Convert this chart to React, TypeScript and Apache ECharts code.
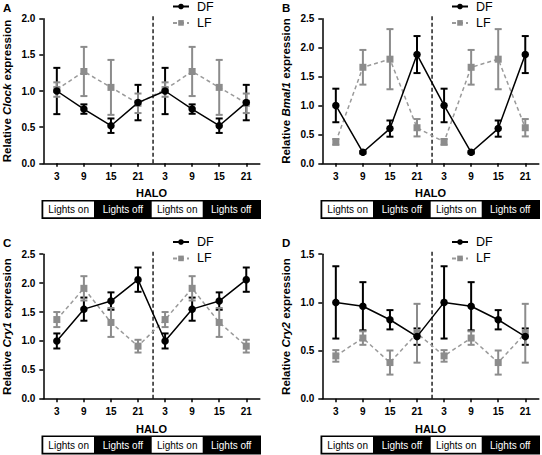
import React, { useEffect, useRef } from "react";
import * as echarts from "echarts";

// ---------- data ----------
const panelLetters = ["A", "B", "C", "D"];
const genes = ["Clock", "Bmal1", "Cry1", "Cry2"];
const haloHours = ["3", "9", "15", "21"];
const yMaxes = [2.0, 2.5, 2.5, 1.5];
const lightPhases = ["Lights on", "Lights off", "Lights on", "Lights off"];

const clockDF = [1.0, 0.75, 0.52, 0.84];
const clockDFErr = [0.32, 0.065, 0.1, 0.245];
const clockLF = [1.02, 1.27, 1.05, 0.83];
const clockLFErr = [0.1, 0.34, 0.38, 0.135];

const bmal1DF = [1.0, 0.19, 0.6, 1.88];
const bmal1DFErr = [0.29, 0.02, 0.14, 0.32];
const bmal1LF = [0.37, 1.66, 1.8, 0.615];
const bmal1LFErr = [0.05, 0.3, 0.52, 0.15];

const cry1DF = [1.0, 1.55, 1.69, 2.06];
const cry1DFErr = [0.13, 0.2, 0.15, 0.21];
const cry1LF = [1.37, 1.91, 1.32, 0.91];
const cry1LFErr = [0.13, 0.21, 0.25, 0.11];

const cry2DF = [1.0, 0.96, 0.82, 0.645];
const cry2DFErr = [0.375, 0.25, 0.1, 0.085];
const cry2LF = [0.445, 0.63, 0.376, 0.68];
const cry2LFErr = [0.06, 0.07, 0.125, 0.305];

const dfMeans = [clockDF, bmal1DF, cry1DF, cry2DF];
const dfErrs = [clockDFErr, bmal1DFErr, cry1DFErr, cry2DFErr];
const lfMeans = [clockLF, bmal1LF, cry1LF, cry2LF];
const lfErrs = [clockLFErr, bmal1LFErr, cry1LFErr, cry2LFErr];

// ---------- styles ----------
const FONT = "Liberation Sans, Arial, Helvetica, sans-serif";
const DF_COLOR = "#000000";
const LF_COLOR = "#8c8c8c";
const LF_LINE = "#9a9a9a";
const panelOrigins = [
  [0, 0],
  [279, 0],
  [0, 235.5],
  [279, 235.5],
];

// two cycles are double-plotted
const cats = [...haloHours.map((h) => "a" + h), ...haloHours.map((h) => "b" + h)];
const tickLabels = [...haloHours, ...haloHours];
const twice = (arr: number[]) => [...arr, ...arr];

function errRender(color: string) {
  return (params: any, api: any) => {
    const x = api.value(0);
    const lo = api.value(1);
    const hi = api.value(2);
    const pLo = api.coord([x, lo]);
    const pHi = api.coord([x, hi]);
    const hw = 3.5;
    const st = { stroke: color, lineWidth: 2 };
    return {
      type: "group",
      children: [
        { type: "line", shape: { x1: pLo[0], y1: pLo[1], x2: pHi[0], y2: pHi[1] }, style: st },
        { type: "line", shape: { x1: pHi[0] - hw, y1: pHi[1], x2: pHi[0] + hw, y2: pHi[1] }, style: st },
        { type: "line", shape: { x1: pLo[0] - hw, y1: pLo[1], x2: pLo[0] + hw, y2: pLo[1] }, style: st },
      ],
    };
  };
}

function sepRender(params: any, api: any) {
  const a = api.value(0);
  const b = api.value(1);
  const top = api.value(2);
  const p3 = api.coord([a, 0]);
  const p4 = api.coord([b, 0]);
  const pt = api.coord([a, top]);
  const x = (p3[0] + p4[0]) / 2 + 1.5;
  return {
    type: "line",
    shape: { x1: x, y1: p3[1], x2: x, y2: pt[1] - 4 },
    style: { stroke: "#000", lineWidth: 1.3, lineDash: [4, 2.5] },
  };
}

function buildOption() {
  const grids: any[] = [];
  const xAxes: any[] = [];
  const yAxes: any[] = [];
  const series: any[] = [];
  const legends: any[] = [];
  const graphics: any[] = [];

  for (let p = 0; p < 4; p++) {
    const [ox, oy] = panelOrigins[p];
    grids.push({
      left: ox + 43.3,
      top: oy + 18.7,
      width: 216.5,
      height: 144.6,
      containLabel: false,
    });
    xAxes.push({
      type: "category",
      gridIndex: p,
      data: cats,
      boundaryGap: true,
      name: "HALO",
      nameLocation: "middle",
      nameGap: 24.5,
      nameTextStyle: { fontFamily: FONT, fontWeight: "bold", fontSize: 11, color: "#000" },
      axisLine: { show: true, lineStyle: { color: "#000", width: 1.5 } },
      axisTick: { show: true, alignWithLabel: true, length: 3.5, lineStyle: { color: "#000", width: 1.5 } },
      axisLabel: {
        margin: 8,
        fontFamily: FONT,
        fontWeight: "bold",
        fontSize: 10,
        color: "#000",
        interval: 0,
        formatter: (_v: string, i: number) => tickLabels[i],
      },
      splitLine: { show: false },
    });
    yAxes.push({
      type: "value",
      gridIndex: p,
      min: 0,
      max: yMaxes[p],
      interval: 0.5,
      name: "Relative {i|" + genes[p] + "} expression",
      nameLocation: "middle",
      nameGap: 30,
      nameRotate: 90,
      nameTextStyle: {
        fontFamily: FONT,
        fontWeight: "bold",
        fontSize: 11.5,
        color: "#000",
        rich: {
          i: { fontFamily: FONT, fontWeight: "bold", fontStyle: "italic", fontSize: 11.5, color: "#000" },
        },
      },
      axisLine: { show: true, lineStyle: { color: "#000", width: 1.5 } },
      axisTick: { show: true, length: 4, lineStyle: { color: "#000", width: 1.5 } },
      axisLabel: {
        margin: 8,
        fontFamily: FONT,
        fontWeight: "bold",
        fontSize: 10,
        color: "#000",
        formatter: (v: number) => v.toFixed(1),
      },
      splitLine: { show: false },
    });

    const df = twice(dfMeans[p]);
    const dfE = twice(dfErrs[p]);
    const lf = twice(lfMeans[p]);
    const lfE = twice(lfErrs[p]);

    series.push({
      type: "custom",
      name: "sep",
      xAxisIndex: p,
      yAxisIndex: p,
      renderItem: sepRender,
      encode: { x: 0, y: 2 },
      data: [[3, 4, yMaxes[p]]],
      z: 1,
      silent: true,
    });
    series.push({
      type: "custom",
      name: "DF err",
      xAxisIndex: p,
      yAxisIndex: p,
      renderItem: errRender(DF_COLOR),
      encode: { x: 0, y: [1, 2] },
      data: df.map((m, i) => [i, m - dfE[i], m + dfE[i]]),
      z: 2,
    });
    series.push({
      type: "custom",
      name: "LF err",
      xAxisIndex: p,
      yAxisIndex: p,
      renderItem: errRender(LF_COLOR),
      encode: { x: 0, y: [1, 2] },
      data: lf.map((m, i) => [i, m - lfE[i], m + lfE[i]]),
      z: 3,
    });
    series.push({
      type: "line",
      name: "LF",
      xAxisIndex: p,
      yAxisIndex: p,
      data: lf,
      symbol: "rect",
      symbolSize: 7,
      itemStyle: { color: LF_COLOR },
      lineStyle: { color: LF_LINE, width: 1.5, type: [4, 3] },
      z: 4,
    });
    series.push({
      type: "line",
      name: "DF",
      xAxisIndex: p,
      yAxisIndex: p,
      data: df,
      symbol: "circle",
      symbolSize: 7.5,
      itemStyle: { color: DF_COLOR },
      lineStyle: { color: DF_COLOR, width: 1.5 },
      z: 5,
    });

    legends.push({
      data: ["DF", "LF"],
      orient: "vertical",
      left: ox + 172,
      top: oy,
      itemWidth: 16,
      itemHeight: 7,
      itemGap: 3.4,
      padding: 0,
      selectedMode: false,
      textStyle: {
        fontFamily: FONT,
        fontSize: 12.5,
        lineHeight: 13,
        color: "#000",
        padding: [0, 0, 0, 3],
      },
    });

    graphics.push({
      type: "text",
      left: ox + 3,
      top: oy + 1.5,
      style: { text: panelLetters[p], fontFamily: FONT, fontWeight: "bold", fontSize: 11.5, fill: "#000" },
    });

    // lights on / off bar
    const bx = ox + 41.5;
    const by = oy + 200;
    graphics.push({ type: "rect", shape: { x: bx, y: by, width: 219.5, height: 19 }, style: { fill: "#000" } });
    const segX = [
      [1.8, 50.7],
      [52.5, 57.7],
      [110.2, 51],
      [161.2, 57],
    ];
    segX.forEach(([sx, sw], k) => {
      const on = k % 2 === 0;
      if (on) {
        graphics.push({
          type: "rect",
          shape: { x: bx + sx, y: by + 1.5, width: sw, height: 15.7 },
          style: { fill: "#fff" },
        });
      }
      graphics.push({
        type: "text",
        x: bx + sx + sw / 2,
        y: by + 9.5,
        style: {
          text: lightPhases[k],
          fontFamily: FONT,
          fontSize: 10,
          fill: on ? "#000" : "#fff",
          align: "center",
          verticalAlign: "middle",
        },
      });
    });
  }

  return {
    animation: false,
    backgroundColor: "#fff",
    textStyle: { fontFamily: FONT },
    grid: grids,
    xAxis: xAxes,
    yAxis: yAxes,
    legend: legends,
    series,
    graphic: graphics,
  };
}

export default function App() {
  const ref = useRef<HTMLDivElement>(null);
  useEffect(() => {
    if (!ref.current) return;
    const chart = echarts.init(ref.current, undefined, { renderer: "svg" });
    chart.setOption(buildOption() as any);
    return () => chart.dispose();
  }, []);
  return (
    <div
      ref={ref}
      style={{ position: "absolute", left: 0, top: 0, width: 542, height: 455, background: "#fff" }}
    />
  );
}
